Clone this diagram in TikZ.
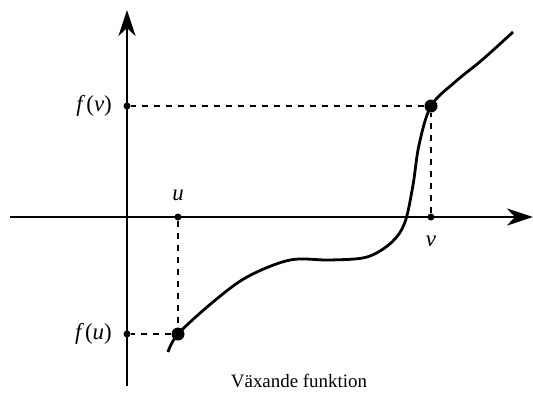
\documentclass[tikz,border=0pt]{standalone}
\usepackage{fontspec}
\setmainfont{Liberation Serif}
\usetikzlibrary{arrows.meta}
\begin{document}
\begin{tikzpicture}[x=1bp,y=-1bp,
  axis/.style={line width=2.8bp,-{Stealth[length=26bp,width=17bp,inset=8bp]}},
  guide/.style={line width=2.3bp,dash pattern=on 6bp off 6bp},
  curvestyle/.style={line width=2.8bp},
  bigdot/.style={circle,fill=black,inner sep=0pt,minimum size=13bp},
  smalldot/.style={circle,fill=black,inner sep=0pt,minimum size=7bp},
  lbl/.style={font=\fontsize{23}{26}\selectfont,inner sep=2bp},
  ttl/.style={font=\fontsize{19}{22}\selectfont,inner sep=2bp}]
\useasboundingbox (0,0) rectangle (533,394);
% axes
\coordinate (xs) at (10,217);
\coordinate (xe) at (533,217);
\coordinate (ys) at (127,386);
\coordinate (ye) at (127,10);
\draw[axis] (xs) -- (xe);
\draw[axis] (ys) -- (ye);
% tick dots
\node[smalldot] (tfv) at (127,106) {};
\node[smalldot] (tfu) at (127,334) {};
\node[smalldot] (tu) at (178,217) {};
\node[smalldot] (tv) at (431,217) {};
% curve points
\node[bigdot] (pu) at (178,334) {};
\node[bigdot] (pv) at (431,106) {};
% guides
\draw[guide] (tu) -- (pu);
\draw[guide] (pu) -- (tfu);
\draw[guide] (tv) -- (pv);
\draw[guide] (pv) -- (tfv);
% curve
\draw[curvestyle] plot[smooth,tension=0.55] coordinates {(168,352) (178,334) (213,302) (247,277) (290,260) (330,260) (367,257) (392,242) (405,222) (413,185) (419,145) (431,106) (455,82) (482,60) (513,32)};
% labels
\node[lbl,anchor=east] (lfv) at (114,106) {\textit{f}\kern1bp(\textit{v})};
\node[lbl,anchor=east] (lfu) at (114,334) {\textit{f}\kern1bp(\textit{u})};
\node[lbl] (lu) at (178,195) {\textit{u}};
\node[lbl] (lv) at (431,241) {\textit{v}};
\node[ttl] (title) at (299,381) {Växande funktion};
\end{tikzpicture}
\end{document}
